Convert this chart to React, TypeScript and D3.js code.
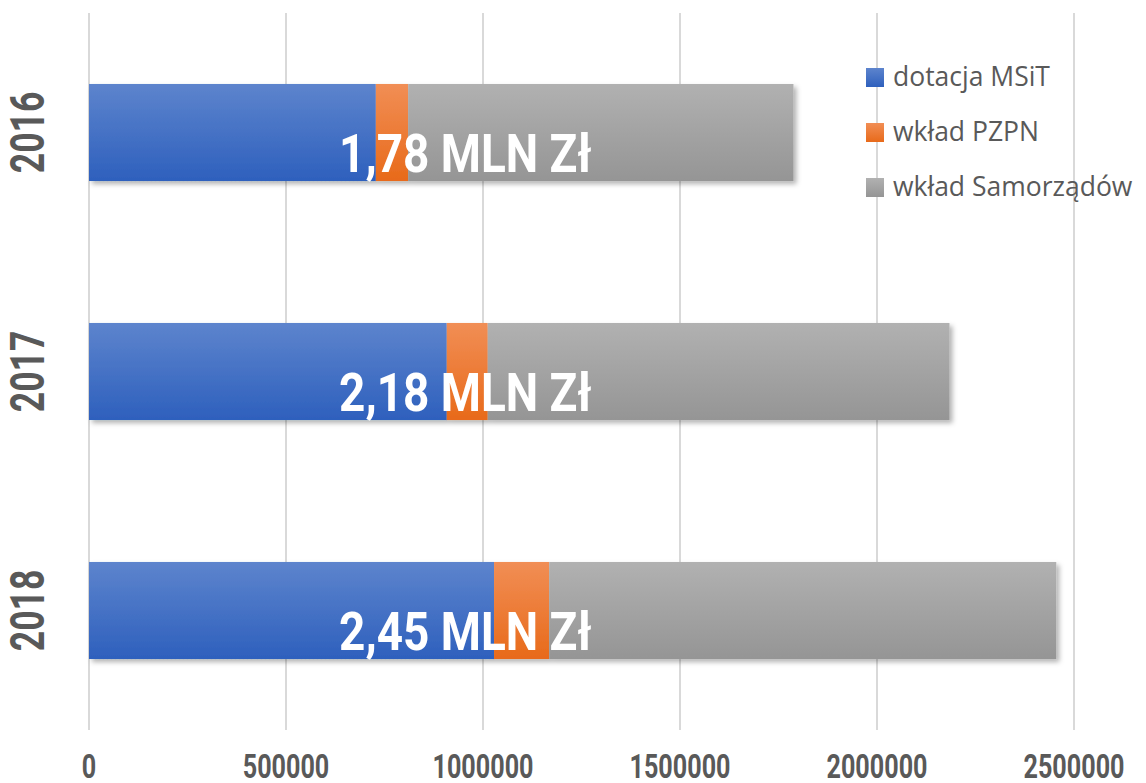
import React, { useEffect, useRef } from 'react';
import * as d3 from 'd3';

const years = ['2016', '2017', '2018'];
const msit = [728000, 908000, 1028000];
const pzpn = [82000, 104000, 140000];
const samorzady = [978000, 1172000, 1287000];
const totalLabels = ['1,78 MLN Zł', '2,18 MLN Zł', '2,45 MLN Zł'];
const seriesNames = ['dotacja MSiT', 'wkład PZPN', 'wkład Samorządów'];
const xTicks = [0, 500000, 1000000, 1500000, 2000000, 2500000];
// where the total label is centred (value units)
const labelAt = 955000;

const gradients = [
    ['#5d84cd', '#2e60bd'],
    ['#f18e55', '#e86a1a'],
    ['#b1b1b1', '#959595'],
];

// no condensed display font available -> bold Roboto squeezed horizontally
const condensed = 'Roboto, "DejaVu Sans", sans-serif';

const App = () => {
    const svgRef = useRef<SVGSVGElement>(null);
    const width = 1146;
    const height = 783;

    useEffect(() => {
        document.body.style.margin = '0';
        const margin = { top: 13, right: 72, bottom: 53, left: 89 };
        const innerHeight = height - margin.top - margin.bottom;

        const svg = d3.select(svgRef.current);
        svg.selectAll('*').remove();

        const defs = svg.append('defs');
        gradients.forEach((g, i) => {
            const lg = defs.append('linearGradient')
                .attr('id', `grad${i}`)
                .attr('x1', 0).attr('y1', 0).attr('x2', 0).attr('y2', 1);
            lg.append('stop').attr('offset', '0%').attr('stop-color', g[0]);
            lg.append('stop').attr('offset', '100%').attr('stop-color', g[1]);
        });
        const filter = defs.append('filter').attr('id', 'shadow')
            .attr('x', '-5%').attr('y', '-20%').attr('width', '110%').attr('height', '150%');
        filter.append('feDropShadow')
            .attr('dx', 3).attr('dy', 3).attr('stdDeviation', 2.5)
            .attr('flood-color', '#000').attr('flood-opacity', 0.3);

        const xScale = d3.scaleLinear().domain([0, 2500000]).range([0, 985]);
        const yScale = d3.scaleBand().domain(years).range([0, innerHeight]).paddingInner(0.594).paddingOuter(0.297);

        const g = svg.append('g').attr('transform', `translate(${margin.left},${margin.top})`);

        // gridlines
        g.selectAll('line.grid')
            .data(xTicks)
            .enter()
            .append('line')
            .attr('x1', (d) => xScale(d))
            .attr('x2', (d) => xScale(d))
            .attr('y1', 0)
            .attr('y2', innerHeight)
            .attr('stroke', '#d9d9d9')
            .attr('stroke-width', 2);

        const stackData = years.map((y, i) => ({ year: y, a: msit[i], b: pzpn[i], c: samorzady[i] }));
        const stack = d3.stack<any>().keys(['a', 'b', 'c'])(stackData);

        const barsG = g.append('g').attr('filter', 'url(#shadow)');
        stack.forEach((layer, i) => {
            barsG.selectAll(`rect.s${i}`)
                .data(layer)
                .enter()
                .append('rect')
                .attr('x', (d) => xScale(d[0]))
                .attr('width', (d) => xScale(d[1]) - xScale(d[0]))
                .attr('y', (d) => yScale(d.data.year)!)
                .attr('height', yScale.bandwidth())
                .attr('fill', `url(#grad${i})`);
        });

        // total labels
        g.selectAll('text.total')
            .data(years)
            .enter()
            .append('text')
            .attr('transform', (d) => `translate(${xScale(labelAt)},${yScale(d)! + yScale.bandwidth() * 0.905}) scale(0.85,1)`)
            .attr('text-anchor', 'middle')
            .style('font-family', condensed)
            .style('font-weight', 'bold')
            .style('font-size', '54px')
            .style('fill', '#fff')
            .text((_, i) => totalLabels[i]);

        // year labels
        g.selectAll('text.year')
            .data(years)
            .enter()
            .append('text')
            .attr('transform', (d) => `translate(${-62},${yScale(d)! + yScale.bandwidth() / 2}) rotate(-90) scale(0.74,1)`)
            .attr('text-anchor', 'middle')
            .attr('dy', '0.36em')
            .style('font-family', condensed)
            .style('font-weight', 'bold')
            .style('font-size', '48px')
            .style('fill', '#595959')
            .text((d) => d);

        // x tick labels
        g.selectAll('text.tick')
            .data(xTicks)
            .enter()
            .append('text')
            .attr('transform', (d) => `translate(${xScale(d)},${innerHeight + 48}) scale(0.74,1)`)
            .attr('text-anchor', 'middle')
            .style('font-family', condensed)
            .style('font-weight', 'bold')
            .style('font-size', '34px')
            .style('fill', '#595959')
            .text((d) => String(d));

        // legend
        const legend = svg.append('g').attr('transform', 'translate(866,68)');
        seriesNames.forEach((name, i) => {
            const item = legend.append('g').attr('transform', `translate(0,${i * 55})`);
            item.append('rect')
                .attr('width', 18)
                .attr('height', 19)
                .attr('fill', `url(#grad${i})`);
            item.append('text')
                .attr('x', 27)
                .attr('y', 18)
                .style('font-family', '"Open Sans", sans-serif')
                .style('font-size', '26.5px')
                .style('fill', '#595959')
                .text(name);
        });
    }, []);

    return <svg ref={svgRef} width={width} height={height} style={{ display: 'block' }}></svg>;
};

export default App;
